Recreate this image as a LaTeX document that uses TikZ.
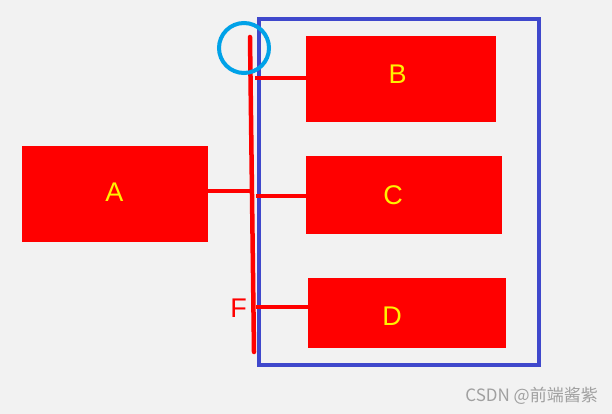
\documentclass[tikz,border=0pt]{standalone}
\usepackage{fontspec}
\setmainfont{Liberation Sans}
\newfontfamily\cjk{Noto Sans CJK SC}
\definecolor{bg}{HTML}{F2F2F2}
\definecolor{boxred}{HTML}{FF0000}
\definecolor{txtyellow}{HTML}{FFF200}
\definecolor{frameblue}{HTML}{3F48CC}
\definecolor{ringblue}{HTML}{00A2E8}
\definecolor{wmgray}{HTML}{A0A0A0}
\begin{document}
\begin{tikzpicture}[x=1pt,y=-1pt,
  redbox/.style={fill=boxred,draw=none,inner sep=0pt},
  letter/.style={inner sep=0pt,anchor=base,font=\fontsize{27}{30}\selectfont,text=txtyellow},
  redline/.style={draw=boxred,line width=4.5pt,line cap=round},
  link/.style={draw=boxred,line width=4pt}]
\useasboundingbox[fill=bg] (0,0) rectangle (612,414);
\draw[frameblue,line width=4pt] (259,19) rectangle (539,365);
\node[redbox,minimum width=186pt,minimum height=96pt] (A) at (115,194) {};
\node[redbox,minimum width=190pt,minimum height=86pt] (B) at (401,79) {};
\node[redbox,minimum width=196pt,minimum height=78pt] (C) at (404,195) {};
\node[redbox,minimum width=198pt,minimum height=70pt] (D) at (407,313) {};
\node[letter] (la) at (114.5,201.5) {A};
\node[letter] (lb) at (397.5,84) {B};
\node[letter] (lc) at (393,204) {C};
\node[letter] (ld) at (392,325) {D};
\coordinate (top) at (250,37);
\coordinate (bot) at (254,352);
\draw[redline] (top) -- (bot);
\coordinate (ja) at (251,191);
\coordinate (jb) at (255,78);
\coordinate (jc) at (256,196);
\coordinate (jd) at (256,307);
\draw[link] (A.east |- ja) -- (ja);
\draw[link] (jb) -- (B.west |- jb);
\draw[link] (jc) -- (C.west |- jc);
\draw[link] (jd) -- (D.west |- jd);
\node[letter,text=boxred] (F) at (238.5,317.5) {F};
\node[draw=ringblue,line width=4pt,circle,minimum size=50pt,inner sep=0pt] (ring) at (244,48) {};
\node[text=wmgray,font=\cjk\fontsize{17}{20}\selectfont,anchor=east,inner sep=0pt] (wm) at (598,396) {CSDN @前端酱紫};
\end{tikzpicture}
\end{document}
